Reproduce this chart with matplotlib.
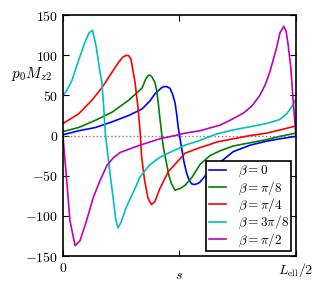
import matplotlib
matplotlib.use('Agg')
import matplotlib.pyplot as plt

plt.rcParams['mathtext.fontset'] = 'cm'
plt.rcParams['font.family'] = 'serif'
plt.rcParams['font.serif'] = ['DejaVu Serif']

# beta = 0
s_b0 = [0.000, 0.067, 0.139, 0.210, 0.282, 0.339, 0.373, 0.395, 0.410, 0.421, 0.433, 0.445, 0.459, 0.470,
        0.481, 0.489, 0.494, 0.502, 0.511, 0.519, 0.530, 0.541, 0.552, 0.564, 0.576, 0.588, 0.617,
        0.667, 0.731, 0.803, 0.874, 0.931, 1.000]
m_b0 = [1, 6, 10, 17, 25, 33, 43, 52, 56, 59, 61, 61, 59, 52,
        41, 25, 12, -3, -18, -32, -46, -55, -60, -61, -60, -58, -48,
        -35, -20, -12, -7, -4, -1]

# beta = pi/8
s_b1 = [0.000, 0.067, 0.139, 0.210, 0.282, 0.339, 0.355, 0.366, 0.375, 0.382, 0.395, 0.403, 0.409, 0.416,
        0.421, 0.426, 0.433, 0.445, 0.455, 0.466, 0.481, 0.502, 0.524, 0.554, 0.588, 0.631,
        0.674, 0.731, 0.803, 0.874, 0.931, 1.000]
m_b1 = [5, 10, 19, 29, 44, 59, 70, 75, 75, 73, 66, 55, 41, 22,
        10, -4, -18, -35, -50, -60, -68, -66, -62, -52, -36, -25,
        -19, -13, -9, -5, -1, 3]

# beta = pi/4
s_b2 = [0.000, 0.067, 0.124, 0.168, 0.202, 0.238, 0.258, 0.273, 0.284, 0.292, 0.309, 0.322, 0.332, 0.337,
        0.350, 0.365, 0.380, 0.395, 0.416, 0.452, 0.524, 0.588, 0.631, 0.660, 0.731, 0.803,
        0.874, 0.946, 1.000]
m_b2 = [15, 27, 44, 60, 75, 91, 98, 100, 99, 95, 67, 35, 2, -25,
        -55, -78, -86, -82, -66, -45, -22, -15, -11, -8, -4, 0,
        3, 8, 12]

# beta = 3pi/8
s_b3 = [0.000, 0.016, 0.039, 0.059, 0.094, 0.112, 0.127, 0.143, 0.159, 0.167, 0.175, 0.182,
        0.193, 0.201, 0.215, 0.227, 0.236, 0.249, 0.272, 0.309, 0.330, 0.370, 0.416, 0.524, 0.588,
        0.660, 0.731, 0.803, 0.874, 0.931, 0.960, 0.983, 1.000]
m_b3 = [50, 56, 69, 87, 116, 128, 131, 110, 79, 66, 35, 2,
        -25, -45, -77, -105, -115, -108, -89, -66, -52, -37, -27, -12, -6,
        2, 7, 11, 15, 20, 27, 36, 45]

# beta = pi/2
s_b4 = [0.000, 0.004, 0.016, 0.030, 0.052, 0.073, 0.101, 0.130, 0.159, 0.189, 0.215, 0.245, 0.330,
        0.416, 0.481, 0.524, 0.588, 0.674, 0.717, 0.775, 0.812, 0.845, 0.868, 0.888, 0.916, 0.932, 0.948,
        0.958, 0.966, 0.978, 0.988, 1.000]
m_b4 = [0, -15, -56, -106, -137, -131, -106, -77, -56, -37, -28, -21, -12,
        -4, 0, 3, 6, 13, 19, 28, 37, 50, 63, 79, 108, 128, 136,
        130, 115, 85, 45, 0]

series = [
    (s_b0, m_b0, 'b', r'$\beta=0$'),
    (s_b1, m_b1, 'g', r'$\beta=\pi/8$'),
    (s_b2, m_b2, 'r', r'$\beta=\pi/4$'),
    (s_b3, m_b3, 'c', r'$\beta=3\pi/8$'),
    (s_b4, m_b4, 'm', r'$\beta=\pi/2$'),
]

yticks = [-150, -100, -50, 0, 50, 100, 150]

fig = plt.figure(figsize=(3.23, 2.90), dpi=100)
ax = fig.add_axes([0.195, 0.117, 0.721, 0.831])

ax.axhline(0, color='gray', ls=':', lw=1.0)
for s, m, c, lab in series:
    ax.plot(s, m, color=c, lw=1.2, label=lab)

ax.set_xlim(0, 1)
ax.set_ylim(-150, 150)
ax.set_xticks([0, 0.5, 1])
ax.set_xticklabels(['$0$', '', r'$L_{\rm ell}/2$'], fontsize=10)
ax.set_yticks(yticks)
ax.set_yticklabels(['$%d$' % v for v in yticks], fontsize=10)
ax.tick_params(direction='in', top=True, right=True, length=4, width=0.8)
for sp in ax.spines.values():
    sp.set_linewidth(1.2)

ax.set_xlabel('$s$', fontsize=10, labelpad=-8)
ax.text(-0.135, 0.755, '$p_0M_{z2}$', transform=ax.transAxes, fontsize=11,
        ha='center', va='center')

leg = ax.legend(loc='lower right', fontsize=9.5, fancybox=False, framealpha=1,
                edgecolor='black', borderaxespad=0.35, handlelength=1.3,
                handletextpad=0.9, labelspacing=0.0, borderpad=0.2)
leg.get_frame().set_linewidth(1.2)

fig.savefig('out.png', dpi=100)
